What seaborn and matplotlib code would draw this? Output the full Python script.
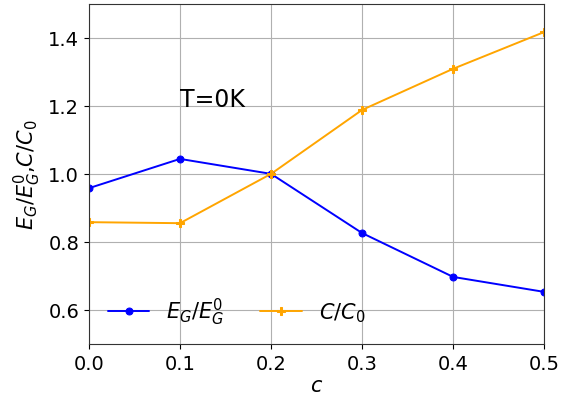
import matplotlib
matplotlib.use("Agg")
import matplotlib.pyplot as plt
import seaborn as sns
import pandas as pd

c_vals = [0.0, 0.1, 0.2, 0.3, 0.4, 0.5]
eg_ratio = [0.958, 1.044, 1.000, 0.826, 0.697, 0.653]
c_ratio = [0.858, 0.855, 1.000, 1.188, 1.309, 1.417]
xticks = [0.0, 0.1, 0.2, 0.3, 0.4, 0.5]
yticks = [0.6, 0.8, 1.0, 1.2, 1.4]

sns.set_style("ticks")
plt.rcParams['font.family'] = ['DejaVu Sans']
plt.rcParams['text.color'] = 'black'
plt.rcParams['axes.labelcolor'] = 'black'
plt.rcParams['xtick.color'] = 'black'
plt.rcParams['ytick.color'] = 'black'

fig = plt.figure(figsize=(5.74, 4.02), dpi=100)
ax = fig.add_axes([0.155, 0.142, 0.793, 0.846])

df = pd.DataFrame({"c": c_vals, "eg": eg_ratio, "cc": c_ratio})
sns.lineplot(data=df, x="c", y="eg", ax=ax, color="blue", marker="o",
             markersize=5, markeredgecolor="blue", linewidth=1.4,
             label=r"$E_G/E_G^0$")
sns.lineplot(data=df, x="c", y="cc", ax=ax, color="orange", marker="P",
             markersize=6, markeredgecolor="orange", linewidth=1.4,
             label=r"$C/C_0$")

ax.set_xlim(0, 0.5)
ax.set_ylim(0.5, 1.5)
ax.set_xticks(xticks)
ax.set_yticks(yticks)
ax.tick_params(labelsize=14)
ax.grid(True, color="#b0b0b0", linewidth=0.8)
for s in ax.spines.values():
    s.set_color("#333333")
ax.set_xlabel(r"$c$", fontsize=15, labelpad=2)
ax.set_ylabel(r"$E_G/E_G^0$,$C/C_0$", fontsize=15, labelpad=4)
ax.text(0.1, 1.2, "T=0K", fontsize=17)
ax.legend(ncol=2, frameon=False, loc="lower left", fontsize=15,
          bbox_to_anchor=(0.0, -0.005), columnspacing=1.75)

fig.savefig("out.png", dpi=100)
